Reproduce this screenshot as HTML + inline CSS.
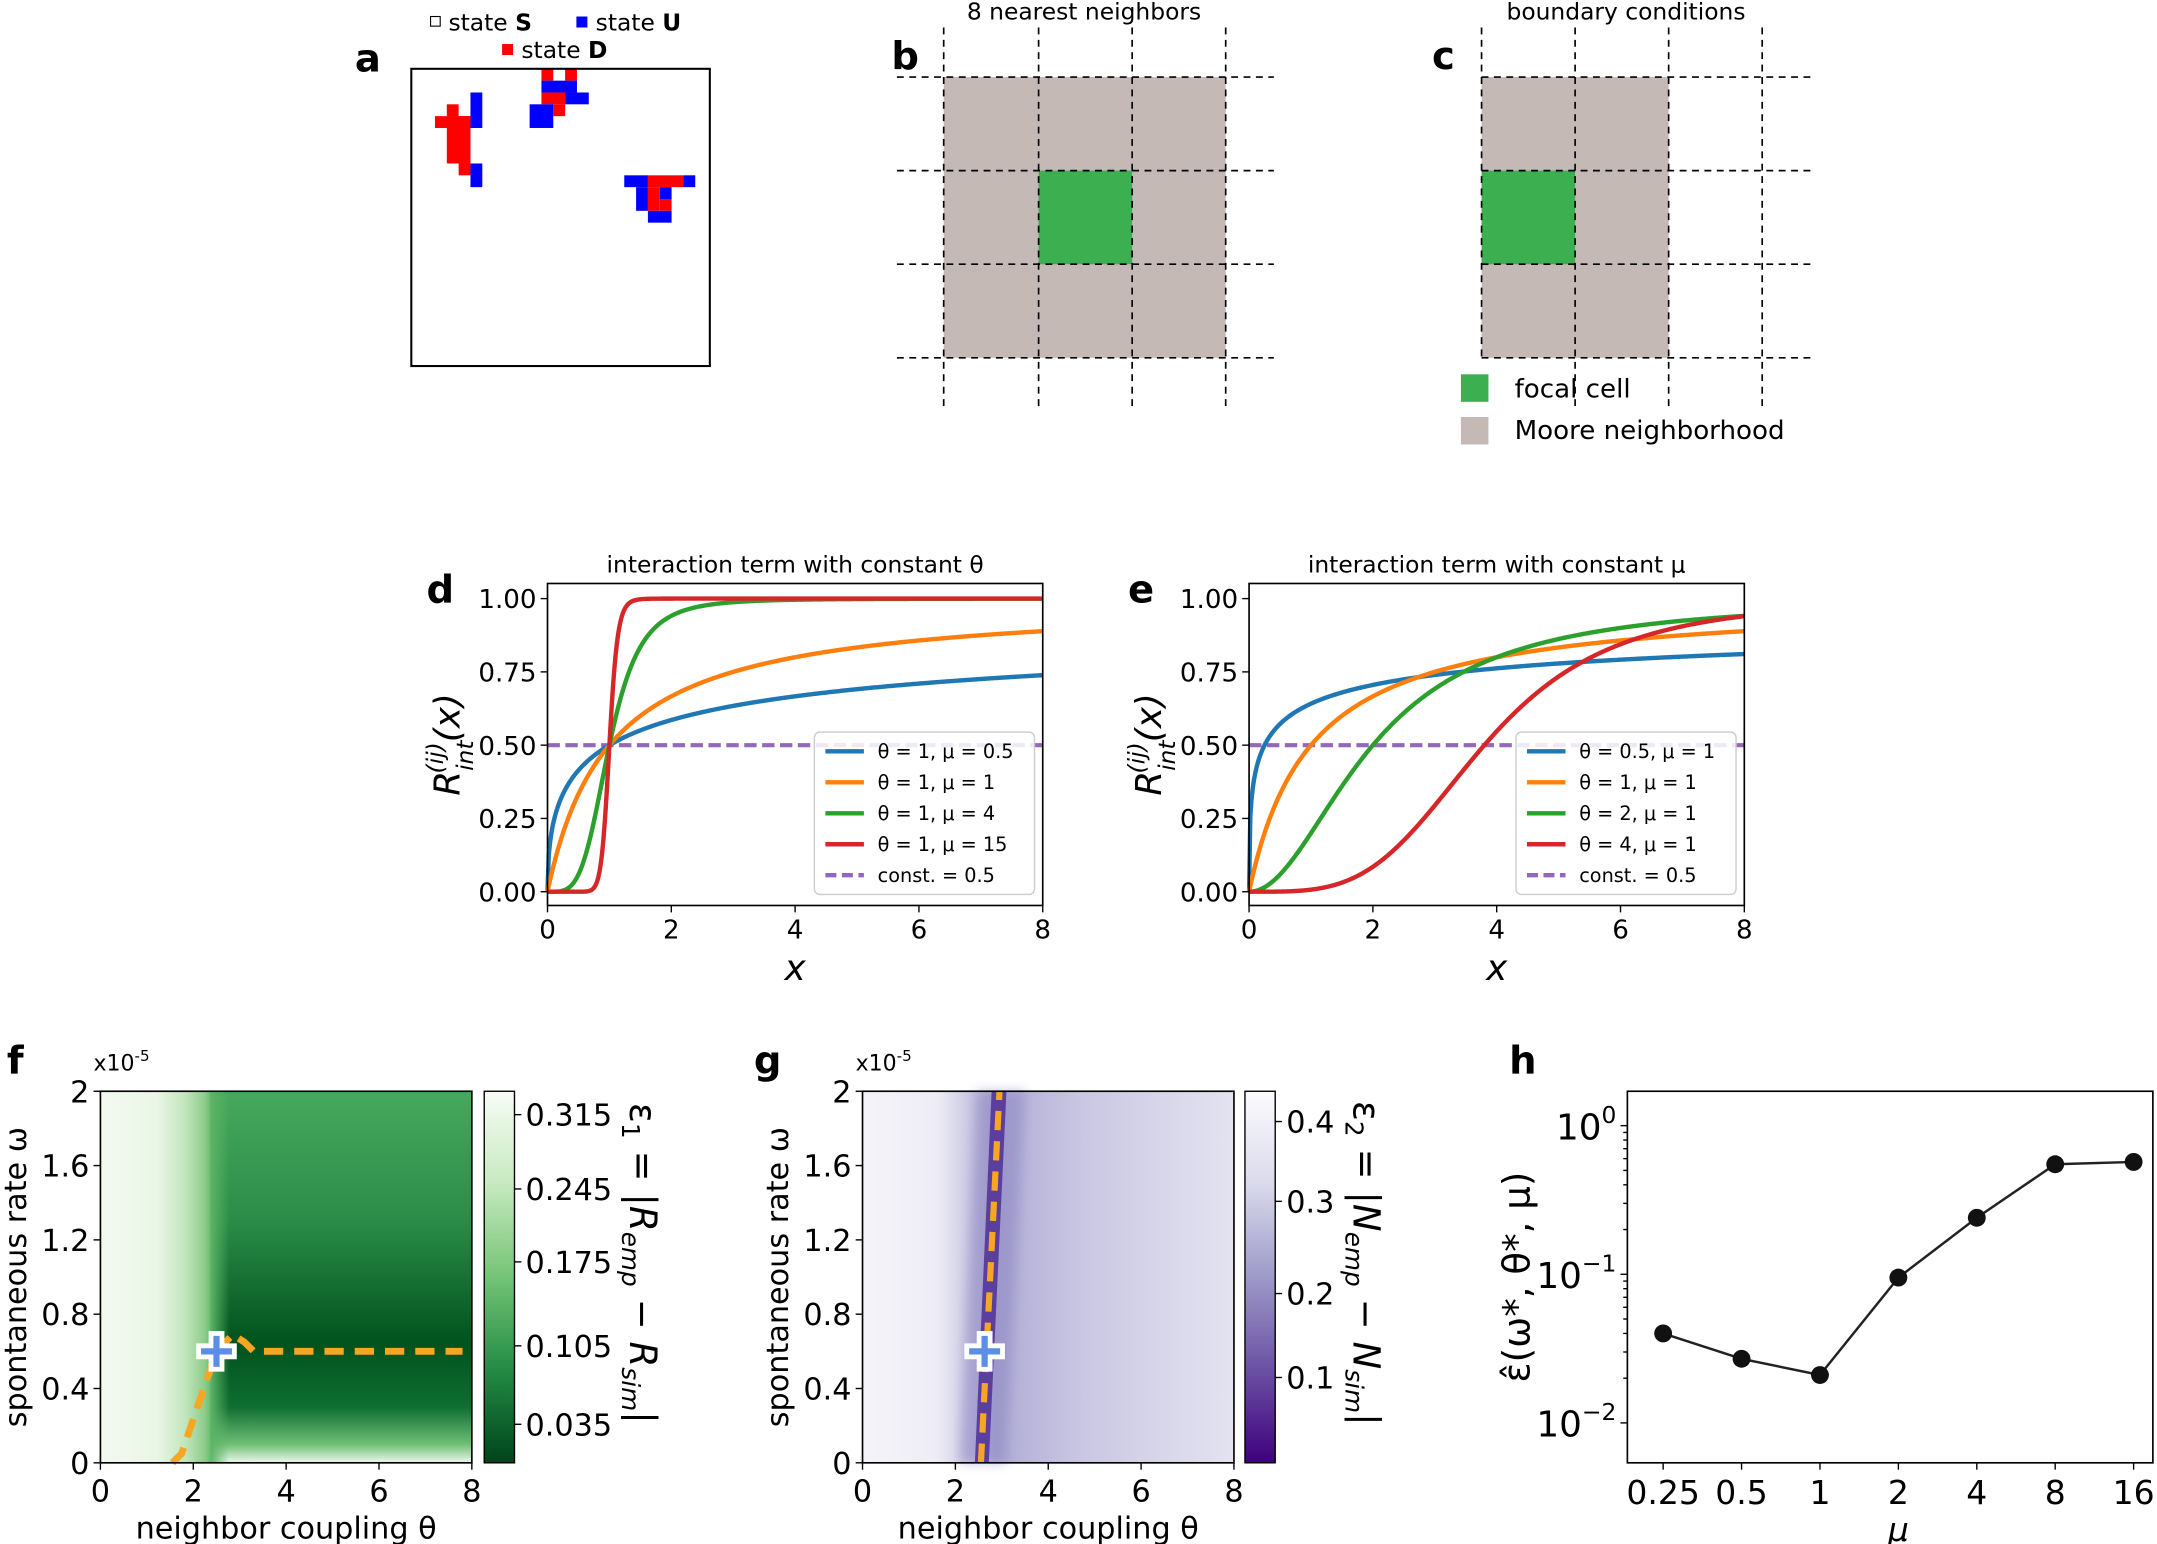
<!DOCTYPE html>
<html><head><meta charset="utf-8"><style>
html,body{margin:0;padding:0;background:#fff}
svg{display:block}
text{font-family:"DejaVu Sans","Liberation Sans",sans-serif;fill:#000}
</style></head><body>
<svg id="s" width="2157" height="1544" viewBox="0 0 1568 1122" preserveAspectRatio="none" xmlns="http://www.w3.org/2000/svg">
<defs>
<linearGradient id="fL" x1="0" x2="1" y1="0" y2="0">
<stop offset="0" stop-color="#f3faf1"/><stop offset="0.5" stop-color="#eaf6e6"/><stop offset="0.75" stop-color="#c2e6bc"/><stop offset="0.92" stop-color="#8fcd8c"/><stop offset="1" stop-color="#5cb565"/></linearGradient>
<linearGradient id="fR" x1="0" x2="0" y1="0" y2="1">
<stop offset="0" stop-color="#47a95d"/><stop offset="0.35" stop-color="#2a8c48"/><stop offset="0.68" stop-color="#01521d"/><stop offset="0.85" stop-color="#0f6e32"/><stop offset="0.95" stop-color="#6fbf75"/><stop offset="1" stop-color="#eef8eb"/></linearGradient>
<linearGradient id="fedge" x1="0" x2="1" y1="0" y2="0">
<stop offset="0" stop-color="#5cb565" stop-opacity="1"/><stop offset="1" stop-color="#5cb565" stop-opacity="0"/></linearGradient>
<linearGradient id="fcb" x1="0" x2="0" y1="0" y2="1">
<stop offset="0" stop-color="#f7fcf5"/><stop offset="0.25" stop-color="#c7e9c0"/><stop offset="0.5" stop-color="#74c476"/><stop offset="0.75" stop-color="#238b45"/><stop offset="1" stop-color="#00441b"/></linearGradient>
<linearGradient id="gB" x1="0" x2="1" y1="0" y2="0">
<stop offset="0" stop-color="#f5f4fa"/><stop offset="0.2" stop-color="#eeedf6"/><stop offset="0.27" stop-color="#d2d0e7"/><stop offset="0.36" stop-color="#b0acd5"/><stop offset="0.6" stop-color="#cac8e3"/><stop offset="1" stop-color="#e4e3f0"/></linearGradient>
<linearGradient id="gcb" x1="0" x2="0" y1="0" y2="1">
<stop offset="0" stop-color="#fcfbfd"/><stop offset="0.25" stop-color="#dadaeb"/><stop offset="0.5" stop-color="#9e9ac8"/><stop offset="0.75" stop-color="#6a51a3"/><stop offset="1" stop-color="#3f007d"/></linearGradient>
<filter id="blur"><feGaussianBlur stdDeviation="4"/></filter>
</defs>

<!-- Panel a -->
<text x="258" y="52" font-size="28" font-weight="bold">a</text>
<rect x="313" y="12" width="7" height="7" fill="#fff" stroke="#000" stroke-width="0.8"/>
<text x="326" y="22" font-size="17">state <tspan font-weight="bold">S</tspan></text>
<rect x="419" y="12" width="8" height="8" fill="#0000ff"/>
<text x="433" y="22" font-size="17">state <tspan font-weight="bold">U</tspan></text>
<rect x="365" y="32" width="8" height="8" fill="#ff0000"/>
<text x="379" y="42" font-size="17">state <tspan font-weight="bold">D</tspan></text>
<g id="cells"></g>
<rect x="299" y="50" width="217" height="216" fill="none" stroke="#000" stroke-width="1.5"/>

<!-- Panel b -->
<text x="648" y="50" font-size="28" font-weight="bold">b</text>
<text x="788" y="14" font-size="17" text-anchor="middle">8 nearest neighbors</text>
<rect x="686" y="56" width="205" height="204" fill="#c5b9b6"/>
<rect x="755" y="124" width="68" height="68" fill="#3cb050"/>
<g stroke="#000" stroke-width="1.2" stroke-dasharray="5,4">
<line x1="686" y1="20" x2="686" y2="295"/><line x1="755" y1="20" x2="755" y2="295"/><line x1="823" y1="20" x2="823" y2="295"/><line x1="891" y1="20" x2="891" y2="295"/>
<line x1="652" y1="56" x2="926" y2="56"/><line x1="652" y1="124" x2="926" y2="124"/><line x1="652" y1="192" x2="926" y2="192"/><line x1="652" y1="260" x2="926" y2="260"/>
</g>

<!-- Panel c -->
<text x="1041" y="50" font-size="28" font-weight="bold">c</text>
<text x="1182" y="14" font-size="17" text-anchor="middle">boundary conditions</text>
<rect x="1077" y="56" width="136" height="204" fill="#c5b9b6"/>
<rect x="1077" y="124" width="68" height="68" fill="#3cb050"/>
<g stroke="#000" stroke-width="1.2" stroke-dasharray="5,4">
<line x1="1077" y1="20" x2="1077" y2="260"/><line x1="1145" y1="20" x2="1145" y2="295"/><line x1="1213" y1="20" x2="1213" y2="295"/><line x1="1281" y1="20" x2="1281" y2="295"/>
<line x1="1077" y1="56" x2="1316" y2="56"/><line x1="1077" y1="124" x2="1316" y2="124"/><line x1="1077" y1="192" x2="1316" y2="192"/><line x1="1077" y1="260" x2="1316" y2="260"/>
</g>
<rect x="1062" y="272" width="20" height="20" fill="#3cb050"/>
<text x="1101" y="289" font-size="19">focal cell</text>
<rect x="1062" y="303" width="20" height="20" fill="#c5b9b6"/>
<text x="1101" y="319" font-size="19">Moore neighborhood</text>

<g id="de"></g>

<!-- Panel f -->
<text x="5" y="780" font-size="28" font-weight="bold">f</text>
<text x="68" y="778" font-size="16">x10<tspan font-size="11" dy="-7">-5</tspan></text>
<rect x="73" y="793" width="82" height="270" fill="url(#fL)"/>
<rect x="153" y="793" width="190" height="270" fill="url(#fR)"/>
<rect x="153" y="793" width="14" height="270" fill="url(#fedge)"/>
<g id="fline"></g>
<rect x="73" y="793" width="270" height="270" fill="none" stroke="#000" stroke-width="1.2"/>
<rect x="352" y="793" width="22" height="270" fill="url(#fcb)" stroke="#000" stroke-width="1"/>

<!-- Panel g -->
<text x="548" y="780" font-size="28" font-weight="bold">g</text>
<text x="622" y="778" font-size="16">x10<tspan font-size="11" dy="-7">-5</tspan></text>
<rect x="627" y="793" width="270" height="270" fill="url(#gB)"/>
<g id="gline"></g>
<rect x="627" y="793" width="270" height="270" fill="none" stroke="#000" stroke-width="1.2"/>
<rect x="905" y="793" width="22" height="270" fill="url(#gcb)" stroke="#000" stroke-width="1"/>

<!-- Panel h -->
<text x="1097" y="780" font-size="28" font-weight="bold">h</text>
<g id="h"></g>
</svg>
<script>
const S=document.getElementById('s');const NS='http://www.w3.org/2000/svg';
function el(p,t,a,txt){const e=document.createElementNS(NS,t);for(const k in a)e.setAttribute(k,a[k]);if(txt!==undefined)e.textContent=txt;(typeof p==='string'?document.getElementById(p):p).appendChild(e);return e;}
const c=8.6,ox=299,oy=50;
function cell(i,j,w,h,col){el('cells','rect',{x:ox+i*c,y:oy+j*c,width:w*c,height:h*c,fill:col});}
const R='#ff0000',B='#0000ff';
cell(2,4,3,1,R);cell(3,3,1,1,R);cell(3,4,2,4,R);cell(4,8,1,1,R);cell(5,2,1,3,B);cell(5,8,1,2,B);
cell(11,0,1,1,R);cell(13,0,1,1,R);cell(11,1,3,1,B);cell(11,2,2,1,R);cell(13,2,2,1,B);cell(12,3,1,1,R);cell(10,3,2,2,B);
cell(18,9,2,1,B);cell(20,9,3,1,R);cell(23,9,1,1,B);cell(19,10,1,2,B);cell(20,10,1,2,R);cell(21,10,1,1,B);cell(21,11,1,1,R);cell(20,12,2,1,B);
function panel(x0,label,title,curves,leg){
 const X=v=>x0+v*45, Y=v=>648-v*213;
 const g=document.getElementById('de');
 el(g,'text',{x:x0-88,y:438,'font-size':28,'font-weight':'bold'},label);
 el(g,'text',{x:x0+180,y:416,'font-size':17,'text-anchor':'middle'},title);
 el(g,'line',{x1:X(0),x2:X(8),y1:Y(.5),y2:Y(.5),stroke:'#9467bd','stroke-width':3,'stroke-dasharray':'9,4'});
 curves.forEach(cv=>{let d='';for(let i=0;i<=400;i++){const x=i*8/400;const v=Math.pow(x,cv[1])/(Math.pow(x,cv[1])+Math.pow(cv[0],cv[1]));d+=(i?'L':'M')+X(x).toFixed(2)+' '+Y(v).toFixed(2);}el(g,'path',{d:d,fill:'none',stroke:cv[2],'stroke-width':3.2});});
 el(g,'rect',{x:x0,y:424,width:360,height:234,fill:'none',stroke:'#000','stroke-width':1.2});
 [0,.25,.5,.75,1].forEach(v=>{el(g,'line',{x1:x0-5,x2:x0,y1:Y(v),y2:Y(v),stroke:'#000'});el(g,'text',{x:x0-8,y:Y(v)+7,'font-size':19,'text-anchor':'end'},v.toFixed(2));});
 [0,2,4,6,8].forEach(v=>{el(g,'line',{x1:X(v),x2:X(v),y1:658,y2:663,stroke:'#000'});el(g,'text',{x:X(v),y:682,'font-size':19,'text-anchor':'middle'},v);});
 el(g,'text',{x:x0+180,y:712,'font-size':26,'font-style':'italic','text-anchor':'middle'},'x');
 const t=el(g,'text',{x:0,y:0,'font-size':26,'font-style':'italic',transform:`translate(${x0-64},541) rotate(-90)`,'text-anchor':'middle'});
 t.innerHTML='R<tspan font-size="17" dy="10">int</tspan><tspan font-size="17" dy="-22" dx="-24">(ij)</tspan><tspan dy="12">(x)</tspan>';
 const lx=x0+194;
 el(g,'rect',{x:lx,y:532,width:160,height:118,rx:4,fill:'#fff','fill-opacity':0.85,stroke:'#ccc'});
 leg.forEach((l,i)=>{const y=546+i*22.5;el(g,'line',{x1:lx+8,x2:lx+36,y1:y,y2:y,stroke:l[1],'stroke-width':3.2,'stroke-dasharray':i==4?'8,4':''});el(g,'text',{x:lx+46,y:y+5,'font-size':14},l[0]);});
}
const cols=['#1f77b4','#ff7f0e','#2ca02c','#d62728','#9467bd'];
panel(398,'d','interaction term with constant θ',[[1,.5,cols[0]],[1,1,cols[1]],[1,4,cols[2]],[1,15,cols[3]]],
 [['θ = 1,  μ = 0.5',cols[0]],['θ = 1,  μ = 1',cols[1]],['θ = 1,  μ = 4',cols[2]],['θ = 1,  μ = 15',cols[3]],['const. = 0.5',cols[4]]]);
panel(908,'e','interaction term with constant μ',[[0.25,.42,cols[0]],[1,1,cols[1]],[2,2,cols[2]],[3.8,3.7,cols[3]]],
 [['θ = 0.5,  μ = 1',cols[0]],['θ = 1,  μ = 1',cols[1]],['θ = 2,  μ = 1',cols[2]],['θ = 4,  μ = 1',cols[3]],['const. = 0.5',cols[4]]]);
function hax(x0,gid,cbx,cbt,cbl){
 [0,.4,.8,1.2,1.6,2].forEach(v=>{const y=1063-v*135;el(S,'line',{x1:x0-5,x2:x0,y1:y,y2:y,stroke:'#000'});el(S,'text',{x:x0-8,y:y+8,'font-size':22,'text-anchor':'end'},v==0||v==2?v:v.toFixed(1));});
 [0,2,4,6,8].forEach(v=>{const x=x0+v*33.75;el(S,'line',{x1:x,x2:x,y1:1063,y2:1068,stroke:'#000'});el(S,'text',{x:x,y:1091,'font-size':22,'text-anchor':'middle'},v);});
 el(S,'text',{x:x0+135,y:1118,'font-size':22,'text-anchor':'middle'},'neighbor coupling θ');
 el(S,'text',{x:0,y:0,'font-size':22,'text-anchor':'middle',transform:`translate(${x0-54},928) rotate(-90)`},'spontaneous rate ω');
 cbt.forEach(t=>{el(S,'line',{x1:cbx+22,x2:cbx+27,y1:t[1],y2:t[1],stroke:'#000'});el(S,'text',{x:cbx+30,y:t[1]+8,'font-size':22},t[0]);});
 const tt=el(S,'text',{x:0,y:0,'font-size':27,'text-anchor':'middle',transform:`translate(${cbl},918) rotate(90)`});tt.innerHTML=gid=='fline'?'ε<tspan font-size="18" dy="6">1</tspan><tspan dy="-6"> = |</tspan><tspan font-style="italic">R</tspan><tspan font-size="18" dy="6" font-style="italic">emp</tspan><tspan dy="-6"> − </tspan><tspan font-style="italic">R</tspan><tspan font-size="18" dy="6" font-style="italic">sim</tspan><tspan dy="-6">|</tspan>':'ε<tspan font-size="18" dy="6">2</tspan><tspan dy="-6"> = |</tspan><tspan font-style="italic">N</tspan><tspan font-size="18" dy="6" font-style="italic">emp</tspan><tspan dy="-6"> − </tspan><tspan font-style="italic">N</tspan><tspan font-size="18" dy="6" font-style="italic">sim</tspan><tspan dy="-6">|</tspan>';
}
hax(73,'fline',352,[['0.315',810],['0.245',864],['0.175',917],['0.105',978],['0.035',1035]],458);
hax(627,'gline',905,[['0.4',815],['0.3',873],['0.2',940],['0.1',1001]],984);
function cross(g,x,y){el(g,'path',{d:`M${x-4} ${y-13}h8v9h9v8h-9v9h-8v-9h-9v-8h9z`,fill:'#5b8ee6',stroke:'#fff','stroke-width':3.5,'stroke-linejoin':'miter'});}
const fx=v=>73+v*33.75,fy=v=>1063-v*135;
el('fline','path',{d:`M${fx(1.55)} ${fy(0)} L${fx(1.75)} ${fy(0.05)} L${fx(2.5)} ${fy(0.6)} L${fx(2.85)} ${fy(0.69)} L${fx(3.1)} ${fy(0.65)} L${fx(3.3)} ${fy(0.6)} L${fx(7.8)} ${fy(0.6)}`,fill:'none',stroke:'#f6a623','stroke-width':5,'stroke-dasharray':'14,8'});
cross('fline',fx(2.5),fy(0.6));
const gx=v=>627+v*33.75;
const gg=el('gline','g',{'clip-path':'none'});
el(gg,'path',{d:`M${gx(2.1)} 1063 L${gx(2.45)} 793 L${gx(3.5)} 793 L${gx(3.1)} 1063Z`,fill:'#8d86c2',opacity:0.55,filter:'url(#blur)'});
el(gg,'path',{d:`M${gx(2.42)} 1063 L${gx(2.78)} 793 L${gx(3.1)} 793 L${gx(2.72)} 1063Z`,fill:'#5a3f9e'});
el(gg,'path',{d:`M${gx(2.55)} 1063 L${gx(2.95)} 793`,stroke:'#f6a623','stroke-width':4.5,'stroke-dasharray':'14,8'});
cross('gline',gx(2.63),fy(0.6));
const hx=m=>1209+Math.log2(m/0.25)*57,hy=v=>1034-(Math.log10(v)+2)*108;
const h=document.getElementById('h');
el(h,'rect',{x:1183,y:793,width:382,height:270,fill:'none',stroke:'#000','stroke-width':1.2});
const pts=[[.25,.04],[.5,.027],[1,.021],[2,.095],[4,.24],[8,.55],[16,.57]];
el(h,'path',{d:pts.map((p,i)=>(i?'L':'M')+hx(p[0])+' '+hy(p[1])).join(''),fill:'none',stroke:'#222','stroke-width':1.8});
pts.forEach(p=>el(h,'circle',{cx:hx(p[0]),cy:hy(p[1]),r:6.5,fill:'#111'}));
[[0.25,'0.25'],[0.5,'0.5'],[1,'1'],[2,'2'],[4,'4'],[8,'8'],[16,'16']].forEach(t=>{const x=hx(t[0]);el(h,'line',{x1:x,x2:x,y1:1063,y2:1068,stroke:'#000'});el(h,'text',{x:x,y:1093,'font-size':24,'text-anchor':'middle'},t[1]);});
for(let d=-2;d<=0;d++){const y=hy(Math.pow(10,d));el(h,'line',{x1:1178,x2:1183,y1:y,y2:y,stroke:'#000'});const t=el(h,'text',{x:1175,y:y+10,'font-size':26,'text-anchor':'end'});t.innerHTML='10<tspan font-size="17" dy="-12">'+(d==0?'0':'−'+(-d))+'</tspan>';
 if(d<0)for(let k=2;k<10;k++){const yy=hy(k*Math.pow(10,d));el(h,'line',{x1:1180,x2:1183,y1:yy,y2:yy,stroke:'#000'});}}
el(h,'text',{x:1380,y:1120,'font-size':24,'font-style':'italic','text-anchor':'middle'},'μ');
el(h,'text',{x:0,y:0,'font-size':27,'text-anchor':'middle',transform:'translate(1112,928) rotate(-90)'},'ε̂(ω*, θ*, μ)');
</script>
</body></html>
